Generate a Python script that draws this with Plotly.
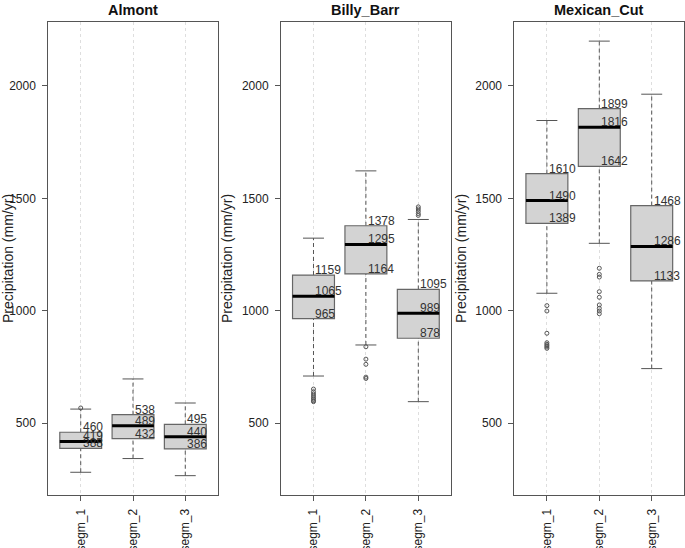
import plotly.graph_objects as go

stations = ["Almont", "Billy_Barr", "Mexican_Cut"]
segments = ["segm_1", "segm_2", "segm_3"]
y_ticks = [500, 1000, 1500, 2000]

# Almont
almont_q1 = [388, 432, 386]
almont_median = [419, 489, 440]
almont_q3 = [460, 538, 495]
almont_lower = [282, 343, 267]
almont_upper = [563, 697, 590]
almont_outliers = [[568], [], []]

# Billy_Barr
billy_q1 = [965, 1164, 878]
billy_median = [1065, 1295, 989]
billy_q3 = [1159, 1378, 1095]
billy_lower = [710, 848, 596]
billy_upper = [1323, 1622, 1406]
billy_outliers = [[652, 640, 630, 621, 613, 606, 600, 596],
                  [840, 785, 762, 705, 699],
                  [1462, 1453, 1443, 1432, 1424]]

# Mexican_Cut
mexican_q1 = [1389, 1642, 1133]
mexican_median = [1490, 1816, 1286]
mexican_q3 = [1610, 1899, 1468]
mexican_lower = [1078, 1300, 743]
mexican_upper = [1846, 2199, 1963]
mexican_outliers = [[1023, 999, 900, 858, 851, 845, 839, 833],
                    [1189, 1162, 1150, 1085, 1060, 1026, 1011, 999, 987],
                    []]

data = {
    "Almont": (almont_q1, almont_median, almont_q3, almont_lower, almont_upper, almont_outliers),
    "Billy_Barr": (billy_q1, billy_median, billy_q3, billy_lower, billy_upper, billy_outliers),
    "Mexican_Cut": (mexican_q1, mexican_median, mexican_q3, mexican_lower, mexican_upper, mexican_outliers),
}

W, H = 685, 548
x_pix = [(48.3, 217.7), (281.0, 450.8), (514.4, 684.2)]
y_top, y_bot = 22.0, 495.0
y_range = [181, 2284]
x_range = [0.38, 3.62]
box_half = 0.4
cap_half = 0.2

frame_col = "#555555"
box_line = "#666666"
box_fill = "#D3D3D3"
whisker_col = "#555555"
text_col = "#333333"
FONT = "Liberation Sans, Arial, Helvetica, sans-serif"

fig = go.Figure()
layout = dict(
    width=W, height=H,
    margin=dict(l=0, r=0, t=0, b=0, pad=0),
    paper_bgcolor="white", plot_bgcolor="white",
    showlegend=False,
    font=dict(family=FONT, size=12, color="#222222"),
)
shapes = []
annotations = []

for i, st in enumerate(stations):
    sfx = "" if i == 0 else str(i + 1)
    xa, ya = "x" + sfx, "y" + sfx
    x0p, x1p = x_pix[i]
    layout["xaxis" + sfx] = dict(
        domain=[x0p / W, x1p / W], anchor=ya, range=x_range, automargin=False,
        tickvals=[1, 2, 3], ticktext=segments, tickangle=-90,
        ticks="outside", ticklen=5, tickcolor=frame_col, ticklabelstandoff=3,
        showline=True, linecolor=frame_col, linewidth=1, mirror=True,
        showgrid=True, gridcolor="#dedede", griddash="dot", gridwidth=1,
        zeroline=False, tickfont=dict(size=12, color="#222222"),
    )
    layout["yaxis" + sfx] = dict(
        domain=[1 - y_bot / H, 1 - y_top / H], anchor=xa, range=y_range, automargin=False,
        tickvals=y_ticks, ticks="outside", ticklen=5, tickcolor=frame_col,
        showline=True, linecolor=frame_col, linewidth=1, mirror=True,
        showgrid=False, zeroline=False, tickfont=dict(size=12, color="#222222"),
        ticklabelstandoff=4,
        title=dict(text="Precipitation (mm/yr)", font=dict(size=14, color="#222222"), standoff=5),
    )
    annotations.append(dict(
        text="<b>" + st + "</b>", xref="paper", yref="paper",
        x=(x0p + x1p) / 2 / W, y=1 - 10 / H, xanchor="center", yanchor="middle",
        showarrow=False, font=dict(size=14.5, color="#111111"),
    ))

    q1, med, q3, lo, hi, outs = data[st]
    for j in range(3):
        c = j + 1
        # whiskers (dashed)
        shapes.append(dict(type="line", xref=xa, yref=ya, x0=c, x1=c, y0=q3[j], y1=hi[j],
                           line=dict(color=whisker_col, width=1, dash="4px,3px")))
        shapes.append(dict(type="line", xref=xa, yref=ya, x0=c, x1=c, y0=lo[j], y1=q1[j],
                           line=dict(color=whisker_col, width=1, dash="4px,3px")))
        # caps
        for v in (lo[j], hi[j]):
            shapes.append(dict(type="line", xref=xa, yref=ya, x0=c - cap_half, x1=c + cap_half,
                               y0=v, y1=v, line=dict(color=whisker_col, width=1)))
        # box
        shapes.append(dict(type="rect", xref=xa, yref=ya, x0=c - box_half, x1=c + box_half,
                           y0=q1[j], y1=q3[j], fillcolor=box_fill,
                           line=dict(color=box_line, width=1.2)))
        # median
        shapes.append(dict(type="line", xref=xa, yref=ya, x0=c - box_half, x1=c + box_half,
                           y0=med[j], y1=med[j], line=dict(color="#000000", width=3)))
        # value labels
        for v in (q3[j], med[j], q1[j]):
            annotations.append(dict(
                text=str(v), xref=xa, yref=ya, x=c, y=v, xanchor="left", yanchor="middle",
                xshift=0, yshift=5, showarrow=False,
                font=dict(size=12, color=text_col),
            ))
        # outliers
        if outs[j]:
            fig.add_trace(go.Scatter(
                x=[c] * len(outs[j]), y=outs[j], mode="markers", xaxis=xa, yaxis=ya,
                marker=dict(symbol="circle-open", size=4, color="#555555", line=dict(width=1)),
                hoverinfo="skip",
            ))

layout["shapes"] = shapes
layout["annotations"] = annotations
fig.update_layout(**layout)
fig.write_html("out.html", config={"displayModeBar": False},
               post_script="document.body.style.margin='0';document.body.style.overflow='hidden';")
